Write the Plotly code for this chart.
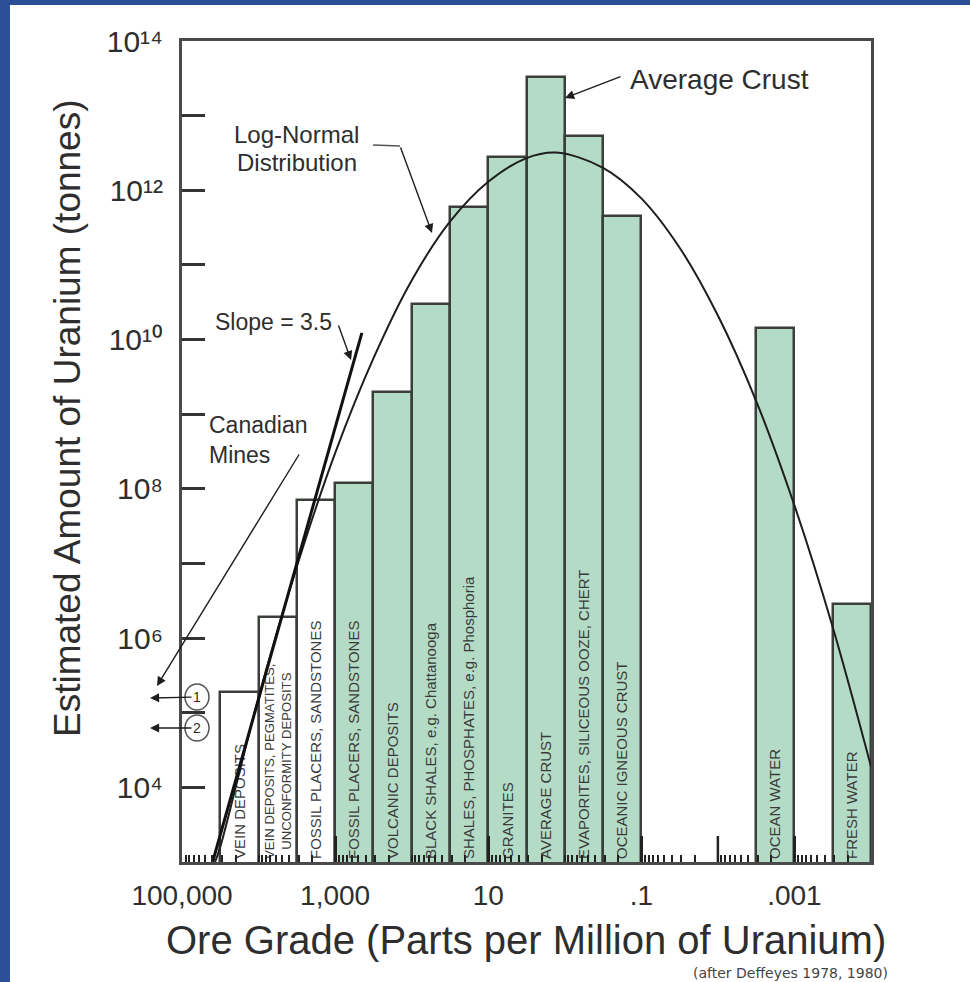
import plotly.graph_objects as go

# Ore-grade bins (ppm U): upper and lower edge of each half-decade bin
bin_upper_ppm = [31623, 10000, 3162, 1000, 316.2, 100, 31.62, 10, 3.162, 1, 0.3162, 0.003162, 0.0003162]
bin_lower_ppm = [10000, 3162, 1000, 316.2, 100, 31.62, 10, 3.162, 1, 0.3162, 0.1, 0.001, 0.0001]
# Estimated uranium (tonnes) held in each bin
uranium_tonnes = [1.9e5, 1.9e6, 7e7, 1.2e8, 2e9, 3e10, 6e11, 2.8e12, 3.3e13, 5.4e12, 4.5e11, 1.45e10, 2.9e6]
deposit_types = [
    "VEIN DEPOSITS",
    "VEIN DEPOSITS, PEGMATITES,<br>UNCONFORMITY DEPOSITS",
    "FOSSIL PLACERS, SANDSTONES",
    "FOSSIL PLACERS, SANDSTONES",
    "VOLCANIC DEPOSITS",
    "BLACK SHALES, e.g. Chattanooga",
    "SHALES, PHOSPHATES, e.g. Phosphoria",
    "GRANITES",
    "AVERAGE CRUST",
    "EVAPORITES, SILICEOUS OOZE, CHERT",
    "OCEANIC IGNEOUS CRUST",
    "OCEAN WATER",
    "FRESH WATER",
]
# Deposits that are drawn as open (unfilled) bars
open_bar = [True, True, True] + [False] * 10

# Log-normal distribution curve
lognormal_ppm = [37000, 31600, 10000, 3160, 1000, 316, 100, 31.6, 10, 3.16, 1.3,
                 0.316, 0.1, 0.0316, 0.01, 0.00316, 0.001, 0.000316, 0.0001]
lognormal_tonnes = [1.0e3, 1.6e3, 1.6e5, 9.1e6, 3.0e8, 5.6e9, 6.2e10, 3.8e11, 1.3e12, 2.7e12, 3.2e12,
                    2.0e12, 7.8e11, 1.7e11, 2.1e10, 1.5e9, 6.0e7, 1.4e6, 1.9e4]

# Tangent line of slope 3.5 through the high-grade deposits
slope_ppm = [39800, 447]
slope_tonnes = [1.0e3, 1.23e10]

# Axis labelling
y_label_exponents = [4, 6, 8, 10, 12, 14]
x_label_ppm = [1e5, 1e3, 10, 0.1, 0.001]
x_label_text = ["100,000", "1,000", "10", ".1", ".001"]

SUPERSCRIPT = str.maketrans("0123456789", "⁰¹²³⁴⁵⁶⁷⁸⁹")

FONT = "Liberation Sans, Arial, Helvetica, sans-serif"
INK = "#2e2e2e"
GREEN = "#b4dbc6"
EDGE = "#3a3f3a"

W, H = 970, 982
L, R, T, B = 182, 871, 41, 862


def px(x):
    return (x - L) / (R - L)


def py(y):
    return (B - y) / (B - T)


mid = [(u + l) / 2 for u, l in zip(bin_upper_ppm, bin_lower_ppm)]
wid = [u - l for u, l in zip(bin_upper_ppm, bin_lower_ppm)]
fills = ["white" if o else GREEN for o in open_bar]

fig = go.Figure()
fig.add_trace(go.Bar(
    x=mid, y=uranium_tonnes, width=wid,
    marker=dict(color=fills, line=dict(color=EDGE, width=2.5)),
    text=deposit_types, textposition="inside", textangle=-90,
    insidetextanchor="start",
    textfont=dict(family=FONT, size=15, color="#3a3a3a"),
    hoverinfo="skip",
))
fig.add_trace(go.Scatter(
    x=lognormal_ppm, y=lognormal_tonnes, mode="lines",
    line=dict(color="#1e1e1e", width=2, shape="spline", smoothing=1.0),
    hoverinfo="skip",
))
fig.add_trace(go.Scatter(
    x=slope_ppm, y=slope_tonnes, mode="lines",
    line=dict(color="#111111", width=3),
    hoverinfo="skip",
))

arrow_style = dict(arrowhead=2, arrowsize=1.3, arrowwidth=1.4, arrowcolor="#1e1e1e", standoff=0)


def pointer(head, tail):
    return dict(arrow_style, showarrow=True, text="", xref="paper", yref="paper",
                x=px(head[0]), y=py(head[1]),
                ax=tail[0] - head[0], ay=tail[1] - head[1])


def label(x, y, text, size, xanchor="center", align="center", **kw):
    return dict(x=px(x), y=py(y), xref="paper", yref="paper", text=text,
                showarrow=False, xanchor=xanchor, yanchor="middle", align=align,
                font=dict(family=FONT, size=size, color=INK), **kw)


def callout(head, text_at, text, size):
    """Text placed at text_at with an arrow running to head."""
    return dict(arrow_style, showarrow=True, xref="paper", yref="paper",
                x=px(head[0]), y=py(head[1]),
                ax=text_at[0] - head[0], ay=text_at[1] - head[1],
                text=text, font=dict(family=FONT, size=size, color=INK))


annotations = [
    label(628, 80, "Average Crust", 28, xanchor="left"),
    pointer((565, 98), (622, 76)),
    label(296, 135, "Log-Normal", 24),
    label(297, 162, "Distribution", 24),
    pointer((432, 233), (400, 146)),
    label(273, 322, "Slope = 3.5", 23),
    pointer((351, 360), (338, 324)),
    label(207, 425, "Canadian", 23, xanchor="left"),
    label(207, 455, "Mines", 23, xanchor="left"),
    pointer((157, 686), (300, 453)),
    callout((150, 698), (197, 697), "1", 14),
    callout((150, 728), (197, 728), "2", 14),
    label(67, 418, "Estimated Amount of Uranium (tonnes)", 37, textangle=-90),
    label(526, 940, "Ore Grade (Parts per Million of Uranium)", 40),
    dict(x=px(790), y=py(973), xref="paper", yref="paper", showarrow=False,
         text="(after Deffeyes 1978, 1980)", xanchor="center", yanchor="middle",
         font=dict(family="DejaVu Sans, sans-serif", size=14, color="#444444")),
]

shapes = [
    # white page on the blue backdrop
    dict(type="rect", xref="paper", yref="paper", layer="below",
         x0=px(10), x1=px(W + 5), y0=py(H + 5), y1=py(5),
         fillcolor="white", line=dict(width=0)),
    # tall decade tick at 0.01 ppm on the grade axis
    dict(type="line", xref="x", yref="paper", x0=0.01, x1=0.01, y0=0, y1=26 / (B - T),
         line=dict(color="#222222", width=2.5)),
    # leader stub for the log-normal label
    dict(type="line", xref="paper", yref="paper",
         x0=px(373), y0=py(145), x1=px(400), y1=py(146),
         line=dict(color="#555555", width=1.4)),
    # rings around the mine numbers
    dict(type="circle", xref="paper", yref="paper",
         x0=px(185), x1=px(209), y0=py(710), y1=py(684),
         line=dict(color="#555555", width=1.5)),
    dict(type="circle", xref="paper", yref="paper",
         x0=px(185), x1=px(209), y0=py(741), y1=py(715),
         line=dict(color="#555555", width=1.5)),
]

fig.update_layout(
    width=W, height=H,
    margin=dict(l=L, r=W - R, t=T, b=H - B),
    paper_bgcolor="#2c4f98", plot_bgcolor="white",
    showlegend=False, bargap=0,
    annotations=annotations, shapes=shapes,
    font=dict(family=FONT, color=INK),
)
fig.update_xaxes(
    type="log", range=[5, -4],
    tickmode="array", tickvals=x_label_ppm, ticktext=x_label_text,
    ticks="inside", ticklen=26, tickwidth=2.5, tickcolor="#222222",
    minor=dict(ticks="inside", ticklen=7, tickwidth=2, tickcolor="#222222", dtick="D1", showgrid=False),
    showline=True, linecolor="#4a4a4a", linewidth=3, mirror=True,
    showgrid=False, zeroline=False,
    tickfont=dict(family=FONT, size=28, color=INK), ticklabelstandoff=6,
)
fig.update_yaxes(
    type="log", range=[3, 14],
    tickmode="array", tickvals=[10.0 ** k for k in y_label_exponents],
    ticktext=["10" + str(k).translate(SUPERSCRIPT) for k in y_label_exponents],
    ticks="inside", ticklen=23, tickwidth=3, tickcolor="#333333",
    minor=dict(ticks="inside", ticklen=23, tickwidth=3, tickcolor="#333333", dtick=1, showgrid=False),
    showline=True, linecolor="#4a4a4a", linewidth=3, mirror=True,
    showgrid=False, zeroline=False,
    tickfont=dict(family=FONT, size=30, color=INK), ticklabelstandoff=10,
)

fig.write_html("out.html")
